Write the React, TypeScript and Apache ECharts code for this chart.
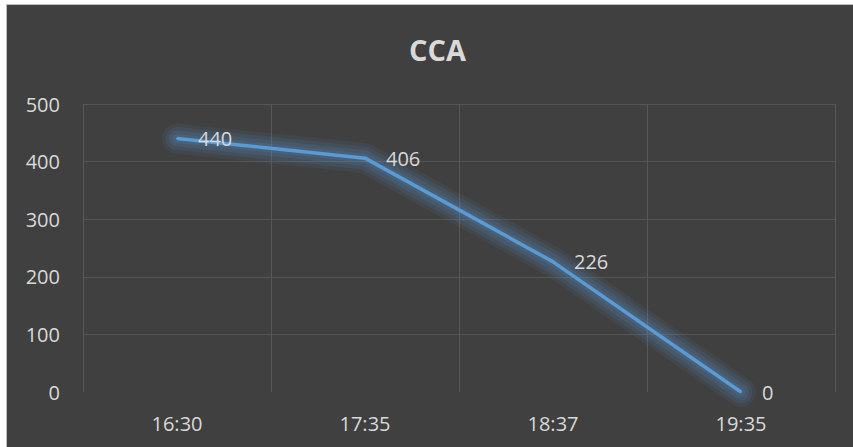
import React, { useEffect, useRef } from "react";
import * as echarts from "echarts";

const title = "CCA";
const categories = ["16:30", "17:35", "18:37", "19:35"];
const values = [440, 406, 226, 0];
const yMin = 0;
const yMax = 500;
const yInterval = 100;

const glowLayers = [
  { width: 30, alpha: 0.08 },
  { width: 23, alpha: 0.1 },
  { width: 16, alpha: 0.12 },
  { width: 9, alpha: 0.14 },
];

export default function App() {
  const ref = useRef<HTMLDivElement>(null);
  useEffect(() => {
    if (!ref.current) return;
    const chart = echarts.init(ref.current, undefined, { renderer: "svg" });
    const font = "'Open Sans', 'Noto Sans', sans-serif";
    const glowSeries = glowLayers.map((g) => ({
      type: "line",
      data: values,
      symbol: "none",
      silent: true,
      z: 1,
      lineStyle: {
        color: `rgba(91,155,213,${g.alpha})`,
        width: g.width,
        cap: "round",
        join: "round",
      },
    }));
    chart.setOption({
      animation: false,
      backgroundColor: "#404040",
      textStyle: { fontFamily: font },
      title: {
        text: title,
        left: 397,
        top: 25,
        textStyle: { color: "#d9d9d9", fontSize: 29, fontWeight: "bold", fontFamily: font },
      },
      grid: { left: 76, right: 19, top: 99, bottom: 56 },
      xAxis: {
        type: "category",
        data: categories,
        boundaryGap: true,
        axisLine: { show: false },
        axisTick: { show: false },
        axisLabel: { color: "#d9d9d9", fontSize: 20, margin: 21, fontFamily: font },
        splitLine: { show: true, lineStyle: { color: "#585858", width: 1 } },
      },
      yAxis: {
        type: "value",
        min: yMin,
        max: yMax,
        interval: yInterval,
        axisLine: { show: false },
        axisTick: { show: false },
        axisLabel: { color: "#d9d9d9", fontSize: 20, margin: 23, fontFamily: font },
        splitLine: { show: true, showMinLine: false, lineStyle: { color: "#555555", width: 1 } },
      },
      series: [
        ...glowSeries,
        {
          type: "line",
          data: values,
          symbol: "circle",
          symbolSize: 2,
          z: 3,
          itemStyle: { color: "#5b9bd5" },
          lineStyle: {
            color: "#5b9bd5",
            width: 3.5,
          },
          label: {
            show: true,
            position: "right",
            distance: 20,
            color: "#d9d9d9",
            fontSize: 20,
            fontFamily: font,
          },
        },
      ],
    });
    return () => chart.dispose();
  }, []);
  return (
    <div style={{ position: "fixed", left: 0, top: 0, width: 853, height: 447, background: "#ffffff", overflow: "hidden" }}>
      <div
        style={{
          position: "absolute",
          left: 6,
          top: 4,
          borderLeft: "1px solid #bfbfbf",
          borderTop: "1px solid #bfbfbf",
        }}
      >
        <div ref={ref} style={{ width: 847, height: 443 }} />
      </div>
    </div>
  );
}
